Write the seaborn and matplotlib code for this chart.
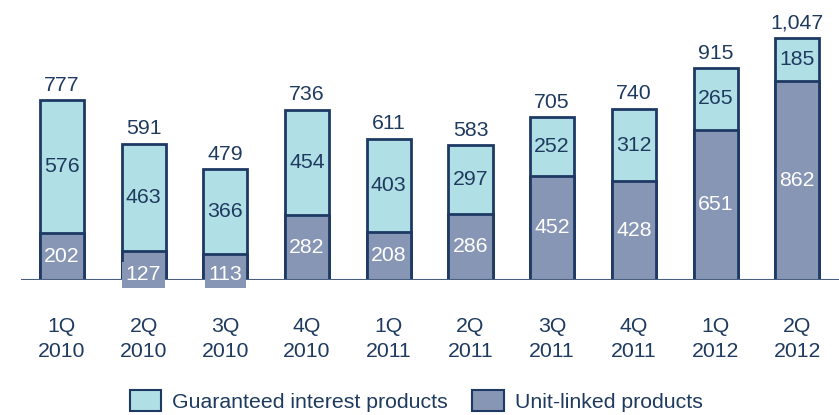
import matplotlib
matplotlib.use("Agg")
import matplotlib.pyplot as plt
from matplotlib.patches import Patch
import seaborn as sns
import pandas as pd

quarters = ["1Q\n2010", "2Q\n2010", "3Q\n2010", "4Q\n2010", "1Q\n2011",
            "2Q\n2011", "3Q\n2011", "4Q\n2011", "1Q\n2012", "2Q\n2012"]
guaranteed = [576, 463, 366, 454, 403, 297, 252, 312, 265, 185]
unit_linked = [202, 127, 113, 282, 208, 286, 452, 428, 651, 862]
totals = ["777", "591", "479", "736", "611", "583", "705", "740", "915", "1,047"]

LIGHT = "#b0dfe5"
DARK = "#8896b6"
EDGE = "#1e3a64"
TEXT = "#1f3a5f"

df = pd.DataFrame({"quarter": quarters,
                   "guaranteed": guaranteed,
                   "unit_linked": unit_linked})
df["total"] = df["guaranteed"] + df["unit_linked"]

sns.set_theme(style="white")
plt.rcParams["font.family"] = ["Liberation Sans", "DejaVu Sans"]

fig = plt.figure(figsize=(8.39, 4.15), dpi=100)
ax = fig.add_axes([21 / 839, 135 / 415, 818 / 839, 280 / 415])

# full stack height drawn in the light colour, unit-linked part on top of it
sns.barplot(data=df, x="quarter", y="total", color=LIGHT, saturation=1,
            width=0.54, edgecolor=EDGE, linewidth=2, ax=ax)
sns.barplot(data=df, x="quarter", y="unit_linked", color=DARK, saturation=1,
            width=0.54, edgecolor=EDGE, linewidth=2, ax=ax)

ax.set_xlim(-0.5, 9.51)
ax.set_ylim(0, 1212)
for side in ["top", "right", "left", "bottom"]:
    ax.spines[side].set_visible(False)
ax.axhline(0, color="#4a5f80", linewidth=1.5, zorder=5)
ax.set_xlabel("")
ax.set_ylabel("")
ax.set_yticks([])

fs = 15.3
ax.tick_params(axis="x", length=0, pad=27, labelsize=fs, labelcolor=TEXT)
for lbl in ax.get_xticklabels():
    lbl.set_linespacing(1.36)

for i, (g, u, t) in enumerate(zip(guaranteed, unit_linked, totals)):
    ax.text(i, u + g / 2, str(g), ha="center", va="center",
            fontsize=fs, color=TEXT, zorder=6)
    if u < 150:
        ax.text(i, 22, str(u), ha="center", va="center", fontsize=fs,
                color="white", zorder=6,
                bbox=dict(boxstyle="square,pad=0.18", fc=DARK, ec="none"))
    else:
        ax.text(i, u / 2, str(u), ha="center", va="center",
                fontsize=fs, color="white", zorder=6)
    ax.annotate(t, (i, u + g), xytext=(0, 4), textcoords="offset points",
                ha="center", va="bottom", fontsize=fs, color=TEXT)

handles = [Patch(facecolor=LIGHT, edgecolor=EDGE, linewidth=1.5,
                 label="Guaranteed interest products"),
           Patch(facecolor=DARK, edgecolor=EDGE, linewidth=1.5,
                 label="Unit-linked products")]
leg = fig.legend(handles=handles, loc="center", bbox_to_anchor=(0.496, 14 / 415),
                 ncol=2, frameon=False, fontsize=fs, handlelength=1.5,
                 handleheight=1.15, columnspacing=1.15, handletextpad=0.5,
                 borderpad=0)
for txt in leg.get_texts():
    txt.set_color(TEXT)

fig.savefig("out.png", dpi=100)
